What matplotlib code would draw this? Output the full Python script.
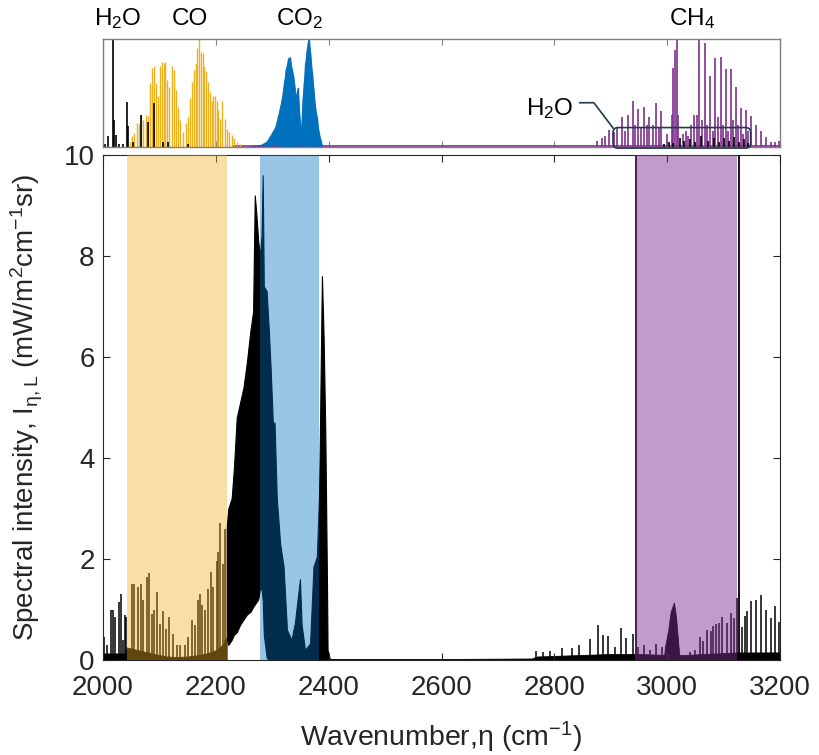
import numpy as np
import matplotlib
matplotlib.use('Agg')
import matplotlib.pyplot as plt
from matplotlib.patches import FancyBboxPatch

plt.rcParams['font.family'] = ['Liberation Sans', 'DejaVu Sans']
plt.rcParams['mathtext.fontset'] = 'custom'
plt.rcParams['mathtext.rm'] = 'Liberation Sans'
plt.rcParams['mathtext.it'] = 'Liberation Sans:italic'
plt.rcParams['mathtext.bf'] = 'Liberation Sans:bold'

# ---------------- lower panel : measured spectrum ----------------
# single lines (wavenumber cm-1, intensity mW/m2cm-1sr)
line_nu = [2001.8, 2006.5, 2013.6, 2018.3, 2021.9, 2027.8, 2031.9, 2036.0, 2039.6,
           2041.5, 2050.8, 2055.0, 2062.6, 2067.3, 2071.5, 2077.4, 2081.5, 2086.2,
           2090.4, 2096.3, 2101.0, 2107.0, 2111.7, 2117.6, 2123.5, 2130.6, 2136.5,
           2145.3, 2151.2, 2157.2, 2163.1, 2169.0, 2172.0, 2174.9, 2180.8, 2185.6,
           2191.4, 2195.6, 2201.5, 2204.4, 2207.4, 2213.3, 2216.2,
           2767.5, 2780.0, 2793.0, 2813.0, 2830.7, 2843.7, 2864.0, 2877.0, 2885.6,
           2894.5, 2907.5, 2917.5, 2927.0, 2938.8, 2948.8, 2959.0, 2969.5, 2980.0,
           2990.0, 3031.5, 3040.0, 3049.0, 3058.0, 3064.0, 3070.0, 3077.0, 3081.7,
           3086.5, 3091.8, 3096.6, 3105.5, 3113.0, 3118.4, 3123.0, 3132.0, 3138.0,
           3141.0, 3148.0, 3157.0, 3166.5, 3174.6, 3183.5, 3191.7, 3198.8]
line_I = [0.45, 0.3, 1.0, 1.0, 0.85, 1.15, 1.3, 0.4, 0.9,
          0.85, 1.51, 1.51, 1.44, 1.5, 1.18, 1.64, 1.72, 0.92,
          1.0, 1.34, 0.72, 0.98, 0.62, 0.85, 0.52, 0.3, 0.3,
          0.3, 0.46, 0.79, 0.69, 1.18, 1.31, 1.08, 1.0, 1.41,
          1.74, 1.44, 1.97, 2.13, 2.72, 1.9, 2.59,
          0.18, 0.16, 0.18, 0.23, 0.23, 0.3, 0.42, 0.7, 0.5,
          0.48, 0.26, 0.63, 0.44, 0.52, 0.26, 0.3, 0.2, 0.31,
          0.26, 0.1, 0.15, 0.2, 0.46, 0.37, 0.6, 0.57, 0.68,
          0.71, 0.74, 0.86, 0.74, 0.93, 0.83, 1.23, 0.66, 0.88,
          0.97, 1.16, 1.19, 1.28, 1.0, 0.83, 1.07, 0.76]

# CH4 Q-branch mound in the measurement
q_nu = [2994, 2996, 3002, 3006, 3009, 3012, 3015.7, 3019.8, 3022]
q_I = [0.0, 0.25, 0.6, 0.95, 1.05, 1.14, 0.85, 0.3, 0.05]

# dense unresolved floor
floor_nu = [2000, 2040, 2042, 2060, 2090, 2113, 2130, 2150, 2172, 2190, 2201, 2212, 2219]
floor_I = [0.13, 0.13, 0.25, 0.2, 0.12, 0.07, 0.06, 0.07, 0.1, 0.15, 0.2, 0.3, 0.45]
floor2_nu = [2400, 2600, 2760, 2770, 2850, 2900, 2943, 3000, 3030, 3125, 3200]
floor2_I = [0.02, 0.02, 0.03, 0.07, 0.1, 0.12, 0.12, 0.1, 0.1, 0.15, 0.15]

# CO2 hot band, upper and lower envelopes
band_nu = [2219, 2222, 2228, 2232, 2237, 2243, 2249, 2255, 2261, 2266, 2269, 2272,
           2275, 2278, 2281, 2283, 2285, 2290, 2294, 2297, 2301, 2304, 2308, 2314,
           2320, 2326, 2334, 2340, 2349, 2352, 2358, 2367, 2373, 2379, 2383, 2388,
           2391, 2394, 2397, 2398, 2402]
band_top = [2.6, 3.0, 3.2, 3.8, 4.8, 5.1, 5.4, 5.9, 6.5, 6.9, 9.2, 8.8,
            8.3, 8.0, 8.4, 9.6, 7.4, 7.3, 6.5, 5.8, 4.7, 4.7, 3.2, 2.3,
            1.85, 0.6, 0.4, 0.73, 1.6, 0.7, 0.2, 0.33, 1.85, 2.05, 3.3, 7.6,
            6.4, 4.5, 1.5, 0.2, 0.02]
band_low = [0.45, 0.3, 0.4, 0.5, 0.55, 0.7, 0.8, 0.9, 0.95, 1.05, 1.1, 1.15,
            1.2, 1.4, 1.4, 1.2, 0.5, 0.05, 0.0, 0.0, 0.0, 0.0, 0.0, 0.0,
            0.0, 0.0, 0.0, 0.0, 0.0, 0.0, 0.0, 0.0, 0.0, 0.0, 0.0, 0.0,
            0.0, 0.0, 0.0, 0.0, 0.0]

# shaded windows
win_co = (2042, 2220)
win_co2 = (2278, 2382)
win_ch4 = (2943, 3124)

# ---------------- upper panel : reference spectra (normalised) ----------------
h2o_nu = [2003, 2009.5, 2018.3, 2019.5, 2022.5, 2028, 2036, 2042, 2044, 2053, 2066.8,
          2080.3, 2090.4, 2106, 2115.8, 2150, 2995, 3003, 3010, 3022, 3030, 3041,
          3050, 3060, 3072, 3083, 3092, 3101, 3110, 3118, 3127, 3136, 3143]
h2o_h = [0.03, 0.1, 1.0, 0.25, 0.11, 0.03, 0.03, 0.42, 0.19, 0.05, 0.3,
         0.23, 0.41, 0.05, 0.05, 0.03, 0.03, 0.05, 0.04, 0.08, 0.06, 0.07,
         0.05, 0.1, 0.06, 0.08, 0.05, 0.08, 0.06, 0.09, 0.05, 0.07, 0.04]

co_nu = [2047.9, 2052.0, 2055.5, 2059.7, 2063.2, 2067.3, 2071.5, 2075.6, 2080.3, 2083.3,
         2086.3, 2090.4, 2093.9, 2098.1, 2101.0, 2104.0, 2108.1, 2110.5, 2114.0, 2117.6,
         2121.7, 2125.8, 2129.4, 2132.3, 2136.5, 2142.4, 2147.1, 2151.2, 2154.2, 2157.7,
         2161.3, 2164.8, 2167.2, 2170.7, 2173.7, 2176.6, 2179.6, 2182.6, 2185.5, 2189.6,
         2192.6, 2195.6, 2198.5, 2201.5, 2204.4, 2207.4, 2211.5, 2216.2, 2219.2, 2223.9,
         2228.0, 2232.2, 2236.9, 2242.8]
co_h = [0.05, 0.1, 0.13, 0.22, 0.21, 0.3, 0.25, 0.3, 0.29, 0.59,
        0.73, 0.75, 0.59, 0.47, 0.75, 0.79, 0.78, 0.79, 0.62, 0.56,
        0.75, 0.71, 0.53, 0.37, 0.25, 0.14, 0.22, 0.28, 0.45, 0.6,
        0.71, 0.78, 0.92, 1.0, 0.88, 0.87, 0.75, 0.7, 0.6, 0.51,
        0.43, 0.47, 0.47, 0.43, 0.34, 0.26, 0.43, 0.26, 0.17, 0.14,
        0.11, 0.08, 0.05, 0.025]

co2_nu = [2255, 2280, 2290, 2296, 2305, 2311, 2317, 2321, 2324, 2328.5, 2331, 2334.4,
          2337.3, 2342, 2345, 2348, 2350.5, 2353.8, 2356, 2358.6, 2361, 2363.6, 2364.6,
          2367, 2370, 2372.8, 2375.7, 2378.7, 2381.5, 2384.6, 2389]
co2_h = [0.0, 0.02, 0.05, 0.1, 0.18, 0.3, 0.45, 0.6, 0.72, 0.82, 0.83, 0.72,
         0.65, 0.45, 0.55, 0.3, 0.1, 0.45, 0.6, 0.78, 0.9, 0.98, 1.0,
         0.88, 0.7, 0.55, 0.37, 0.28, 0.16, 0.08, 0.0]

ch4_nu = [2875, 2884, 2890, 2897.4, 2905.7, 2910.5, 2919.3, 2925, 2930, 2938.8, 2943,
          2948, 2953, 2959, 2964, 2968.3, 2974, 2980, 2985, 2989, 2999, 3008, 3011,
          3014, 3016.8, 3019.7, 3028.5, 3033, 3037.4, 3042, 3047.5, 3052, 3057, 3062,
          3067, 3071, 3076, 3081, 3085.3, 3090, 3094.8, 3099, 3103.7, 3108, 3113,
          3117, 3121.4, 3126, 3131, 3135, 3139.7, 3144, 3148.5, 3157.4, 3166.3,
          3175, 3184, 3191, 3198.6]
ch4_h = [0.06, 0.08, 0.1, 0.16, 0.14, 0.18, 0.28, 0.15, 0.3, 0.43, 0.2,
         0.35, 0.18, 0.37, 0.2, 0.28, 0.2, 0.41, 0.18, 0.33, 0.12, 0.3, 0.73,
         0.9, 1.0, 0.3, 0.12, 0.15, 0.1, 0.2, 0.3, 0.3, 1.0, 0.25,
         0.96, 0.2, 0.66, 0.15, 0.82, 0.28, 0.83, 0.2, 0.72, 0.15, 0.72,
         0.25, 0.56, 0.2, 0.36, 0.12, 0.34, 0.15, 0.29, 0.2, 0.15,
         0.09, 0.05, 0.05, 0.06]

c_co = '#EDB120'
c_co2 = '#0072BD'
c_ch4 = '#7E2F8E'
gray = (0.15, 0.15, 0.15)
c_box = '#1f3b4d'

fig = plt.figure(figsize=(8.19, 7.55), dpi=100)
ax = fig.add_axes([0.1258, 0.1258, 0.8266, 0.6689])
axt = fig.add_axes([0.1258, 0.8053, 0.8266, 0.1430])

# ---- lower panel ----
ax.fill_between(floor_nu, 0, floor_I, color='k', lw=0.6)
ax.fill_between(floor2_nu, 0, floor2_I, color='k', lw=0.6)
ax.fill_between(band_nu, band_low, band_top, color='k', lw=0.8, edgecolor='k')
ax.fill_between(q_nu, 0, q_I, color='k', lw=0.6)
ax.vlines(line_nu, 0, line_I, color='k', lw=1.1)
ax.axvline(win_ch4[0] + 1, color='k', lw=1.3)

ax.axvspan(*win_co, color=c_co, alpha=0.4, lw=0, zorder=3)
ax.axvspan(*win_co2, color=c_co2, alpha=0.4, lw=0, zorder=3)
ax.axvspan(*win_ch4, color=c_ch4, alpha=0.48, lw=0, zorder=3)
ax.axvline(win_ch4[1] + 3, color='k', lw=1.3, zorder=4)

ax.set_xlim(2000, 3200)
ax.set_ylim(0, 10)
ax.set_xticks(np.arange(2000, 3201, 200))
ax.set_yticks(np.arange(0, 11, 2))
ax.tick_params(direction='in', top=True, right=True, length=5, width=0.8,
               colors=gray, labelsize=20, pad=6)
ax.tick_params(axis='x', pad=11)
for s in ax.spines.values():
    s.set_color(gray)
    s.set_linewidth(0.8)
ax.set_xlabel('Wavenumber,η (cm$^{-1}$)', fontsize=20.5, color=gray)
ax.set_ylabel('Spectral intensity, I$_{\\mathrm{η,L}}$ (mW/m$^2$cm$^{-1}$sr)',
              fontsize=20, color=gray)
ax.xaxis.set_label_coords(0.5, -0.118)
ax.yaxis.set_label_coords(-0.086, 0.5)

# ---- upper panel ----
axt.plot([2230, 3200], [0.008, 0.008], color=c_ch4, lw=1.2)
axt.vlines(co_nu, 0, co_h, color=c_co, lw=1.0)
axt.fill_between(co2_nu, 0, co2_h, color=c_co2, lw=0.8, edgecolor=c_co2)
axt.vlines(co2_nu, 0, co2_h, color=c_co2, lw=1.0)
axt.vlines(ch4_nu, 0, ch4_h, color=c_ch4, lw=1.2)
axt.vlines(h2o_nu, 0, h2o_h, color='k', lw=1.2)

box = FancyBboxPatch((2904, -0.01), 244, 0.19,
                     boxstyle='round,pad=0,rounding_size=9', mutation_aspect=0.0052,
                     fill=False, edgecolor=c_box, lw=1.2, clip_on=False, zorder=5)
axt.add_patch(box)
axt.plot([2845, 2870, 2904], [0.41, 0.41, 0.176], color=c_box, lw=1.2)
axt.text(2792, 0.36, 'H$_2$O', fontsize=17.5, ha='center', va='center', color='k')

axt.set_xlim(2000, 3200)
axt.set_ylim(0, 1)
axt.set_xticks(np.arange(2000, 3201, 200))
axt.set_yticks([])
axt.tick_params(direction='in', top=True, length=4, width=0.8, colors=(0.5, 0.5, 0.5),
                labelbottom=False)
for s in axt.spines.values():
    s.set_color((0.5, 0.5, 0.5))
    s.set_linewidth(1.0)

tr = axt.get_xaxis_transform()
for x, lab in [(2026.6, 'H$_2$O'), (2154, 'CO'), (2349, 'CO$_2$'), (3044, 'CH$_4$')]:
    axt.text(x, 1.19, lab, transform=tr, fontsize=17.5, ha='center', va='center',
             color='k', clip_on=False)

fig.savefig('out.png', dpi=100)
